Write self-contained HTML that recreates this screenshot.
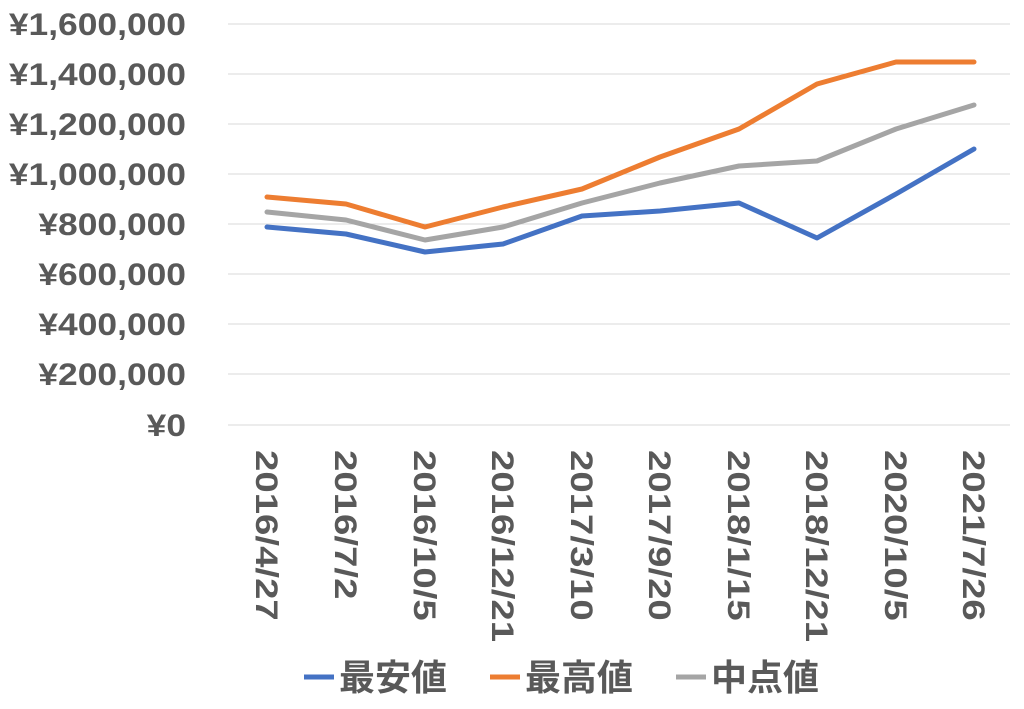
<!DOCTYPE html>
<html><head><meta charset="utf-8"><style>
html,body{margin:0;padding:0;background:#fff}
svg text{font-family:"Liberation Sans","Noto Sans CJK JP",sans-serif;font-weight:bold;fill:#595959}
</style></head><body>
<svg width="1024" height="704" viewBox="0 0 1024 704" xmlns="http://www.w3.org/2000/svg">
<g stroke="#d9d9d9" stroke-width="1">
<line x1="228" x2="1010" y1="24" y2="24"/><line x1="228" x2="1010" y1="74" y2="74"/>
<line x1="228" x2="1010" y1="124" y2="124"/><line x1="228" x2="1010" y1="174" y2="174"/>
<line x1="228" x2="1010" y1="224" y2="224"/><line x1="228" x2="1010" y1="274" y2="274"/>
<line x1="228" x2="1010" y1="324" y2="324"/><line x1="228" x2="1010" y1="374" y2="374"/>
<line x1="228" x2="1010" y1="425" y2="425"/>
</g>
<g font-size="30" text-anchor="end">
<text transform="translate(186,35) scale(1.18,1.05)">¥1,600,000</text>
<text transform="translate(186,85) scale(1.18,1.05)">¥1,400,000</text>
<text transform="translate(186,135) scale(1.18,1.05)">¥1,200,000</text>
<text transform="translate(186,185) scale(1.18,1.05)">¥1,000,000</text>
<text transform="translate(186,235) scale(1.18,1.05)">¥800,000</text>
<text transform="translate(186,285) scale(1.18,1.05)">¥600,000</text>
<text transform="translate(186,335) scale(1.18,1.05)">¥400,000</text>
<text transform="translate(186,385) scale(1.18,1.05)">¥200,000</text>
<text transform="translate(186,436) scale(1.18,1.05)">¥0</text>
</g>
<g font-size="30">
<text transform="translate(256,450) rotate(90) scale(1.28,1.05)">2016/4/27</text>
<text transform="translate(335,450) rotate(90) scale(1.28,1.05)">2016/7/2</text>
<text transform="translate(414,450) rotate(90) scale(1.28,1.05)">2016/10/5</text>
<text transform="translate(492,450) rotate(90) scale(1.28,1.05)">2016/12/21</text>
<text transform="translate(571,450) rotate(90) scale(1.28,1.05)">2017/3/10</text>
<text transform="translate(649,450) rotate(90) scale(1.28,1.05)">2017/9/20</text>
<text transform="translate(728,450) rotate(90) scale(1.28,1.05)">2018/1/15</text>
<text transform="translate(806,450) rotate(90) scale(1.28,1.05)">2018/12/21</text>
<text transform="translate(885,450) rotate(90) scale(1.28,1.05)">2020/10/5</text>
<text transform="translate(963,450) rotate(90) scale(1.28,1.05)">2021/7/26</text>
</g>
<g fill="none" stroke-width="5" stroke-linejoin="round" stroke-linecap="round">
<polyline stroke="#a5a5a5" points="267,212 346,220 425,240 503,227 582,203 660,183 739,166 817,161 896,129 974,105"/>
<polyline stroke="#ed7d31" points="267,197 346,204 425,227 503,207 582,189 660,157 739,129 817,84 896,62 974,62"/>
<polyline stroke="#4472c4" points="267,227 346,234 425,252 503,244 582,216 660,211 739,203 817,238 896,194 974,149"/>
</g>
<g stroke-width="5">
<line x1="304" x2="334" y1="677" y2="677" stroke="#4472c4"/>
<line x1="490" x2="520" y1="677" y2="677" stroke="#ed7d31"/>
<line x1="676" x2="706" y1="677" y2="677" stroke="#a5a5a5"/>
</g>
<g font-size="36">
<text x="339" y="690">最安値</text>
<text x="525" y="690">最高値</text>
<text x="711" y="690">中点値</text>
</g>
</svg>
</body></html>
